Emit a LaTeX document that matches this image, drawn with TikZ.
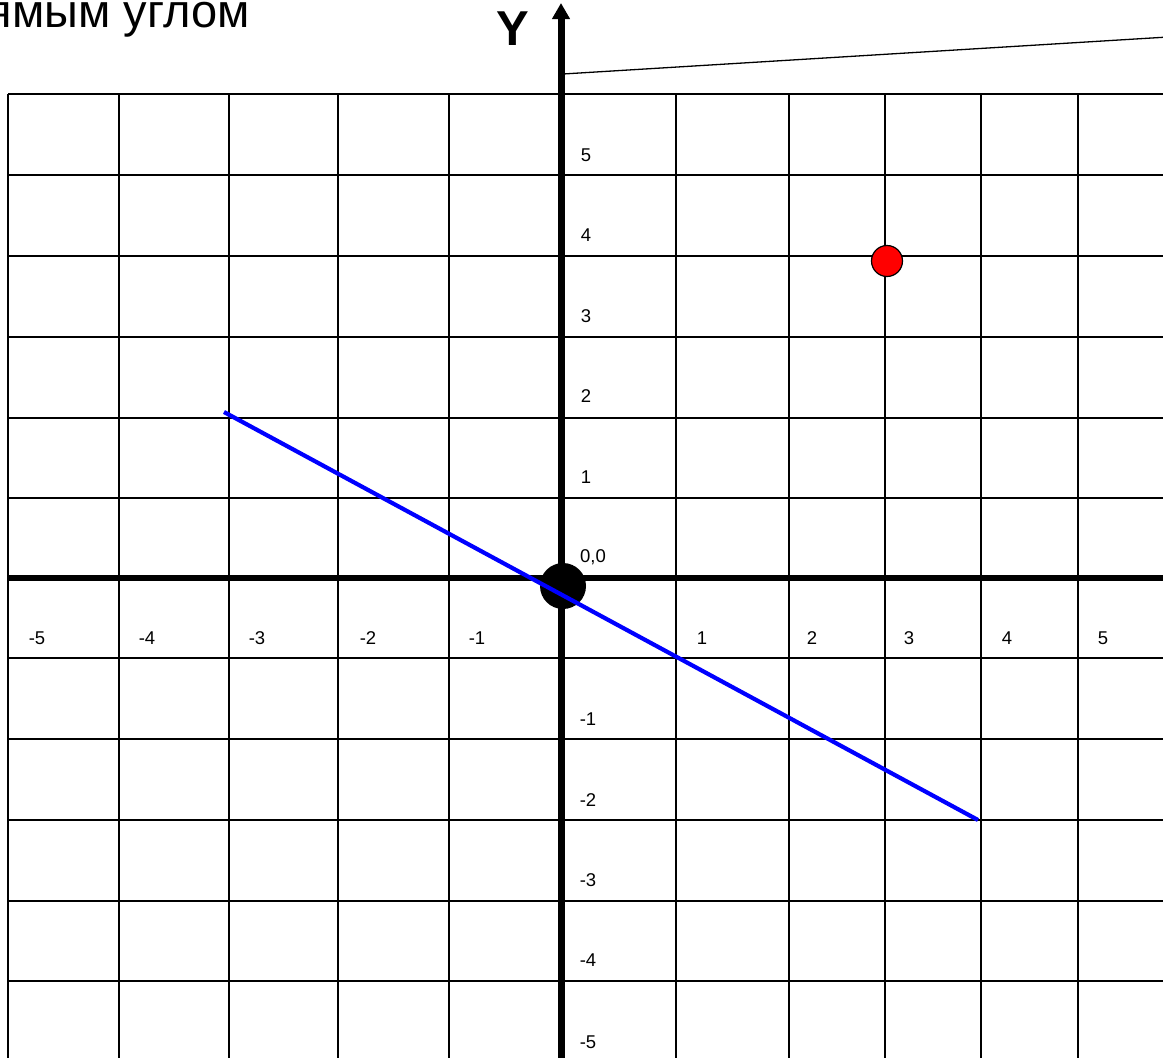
\documentclass[tikz,border=0pt]{standalone}
\usepackage{fontspec}
\setmainfont{Liberation Sans}
\usetikzlibrary{arrows.meta}
\begin{document}
\begin{tikzpicture}[x=1pt,y=-1pt,
  gridline/.style={line width=2.8pt,black},
  lbl/.style={inner sep=0pt,font=\fontsize{18.5}{20}\selectfont},
  axisline/.style={line width=7pt,black}]
\useasboundingbox (0,0) rectangle (1163,1058);
% grid
\foreach \x in {8,119,229,338,449,676,789,885,981,1078}
  \draw[gridline] (\x,94) -- (\x,1062);
\foreach \y in {94,175,256,337,418,498,658,739,820,901,981}
  \draw[gridline] (8,\y) -- (1168,\y);
% axes
\coordinate (xl) at (8,578);
\coordinate (xr) at (1168,578);
\coordinate (yb) at (561,1062);
\coordinate (yt) at (561,3);
\draw[line width=5.5pt] (xl) -- (xr);
\draw[axisline,-{Triangle[width=17pt,length=16pt]}] (yb) -- (yt);
% thin line
\coordinate (tA) at (563,74);
\coordinate (tB) at (1168,37);
\draw[line width=1.3pt] (tA) -- (tB);
% title and axis name
\node[anchor=base east,inner sep=0pt,font=\fontsize{47}{52}\selectfont] (title) at (250,27) {ямым углом};
\node[anchor=base,inner sep=0pt,font=\bfseries\fontsize{49}{52}\selectfont] (ylab) at (513,45) {Y};
% x labels
\node[lbl] (xm5) at (37,638) {-5};
\node[lbl] (xm4) at (147,638) {-4};
\node[lbl] (xm3) at (257,638) {-3};
\node[lbl] (xm2) at (368,638) {-2};
\node[lbl] (xm1) at (477,638) {-1};
\node[lbl] (xp1) at (702,638) {1};
\node[lbl] (xp2) at (812,638) {2};
\node[lbl] (xp3) at (909,638) {3};
\node[lbl] (xp4) at (1007,638) {4};
\node[lbl] (xp5) at (1103,638) {5};
% y labels
\node[lbl] (yp5) at (586,155) {5};
\node[lbl] (yp4) at (586,235) {4};
\node[lbl] (yp3) at (586,316) {3};
\node[lbl] (yp2) at (586,396) {2};
\node[lbl] (yp1) at (586,477) {1};
\node[lbl] (y00) at (593,557) {0,0};
\node[lbl] (ym1) at (588,719) {-1};
\node[lbl] (ym2) at (588,800) {-2};
\node[lbl] (ym3) at (588,880) {-3};
\node[lbl] (ym4) at (588,960) {-4};
\node[lbl] (ym5) at (588,1042) {-5};
% points
\node[circle,fill=black,minimum size=46pt,inner sep=0pt] (origin) at (563,586) {};
\node[circle,fill=red,draw=black,line width=1.2pt,minimum size=31pt,inner sep=0pt] (pt) at (887,261) {};
% blue line
\coordinate (bA) at (224,412);
\coordinate (bB) at (978,820);
\draw[line width=4.2pt,color={rgb,255:red,0;green,0;blue,255}] (bA) -- (bB);
\end{tikzpicture}
\end{document}
